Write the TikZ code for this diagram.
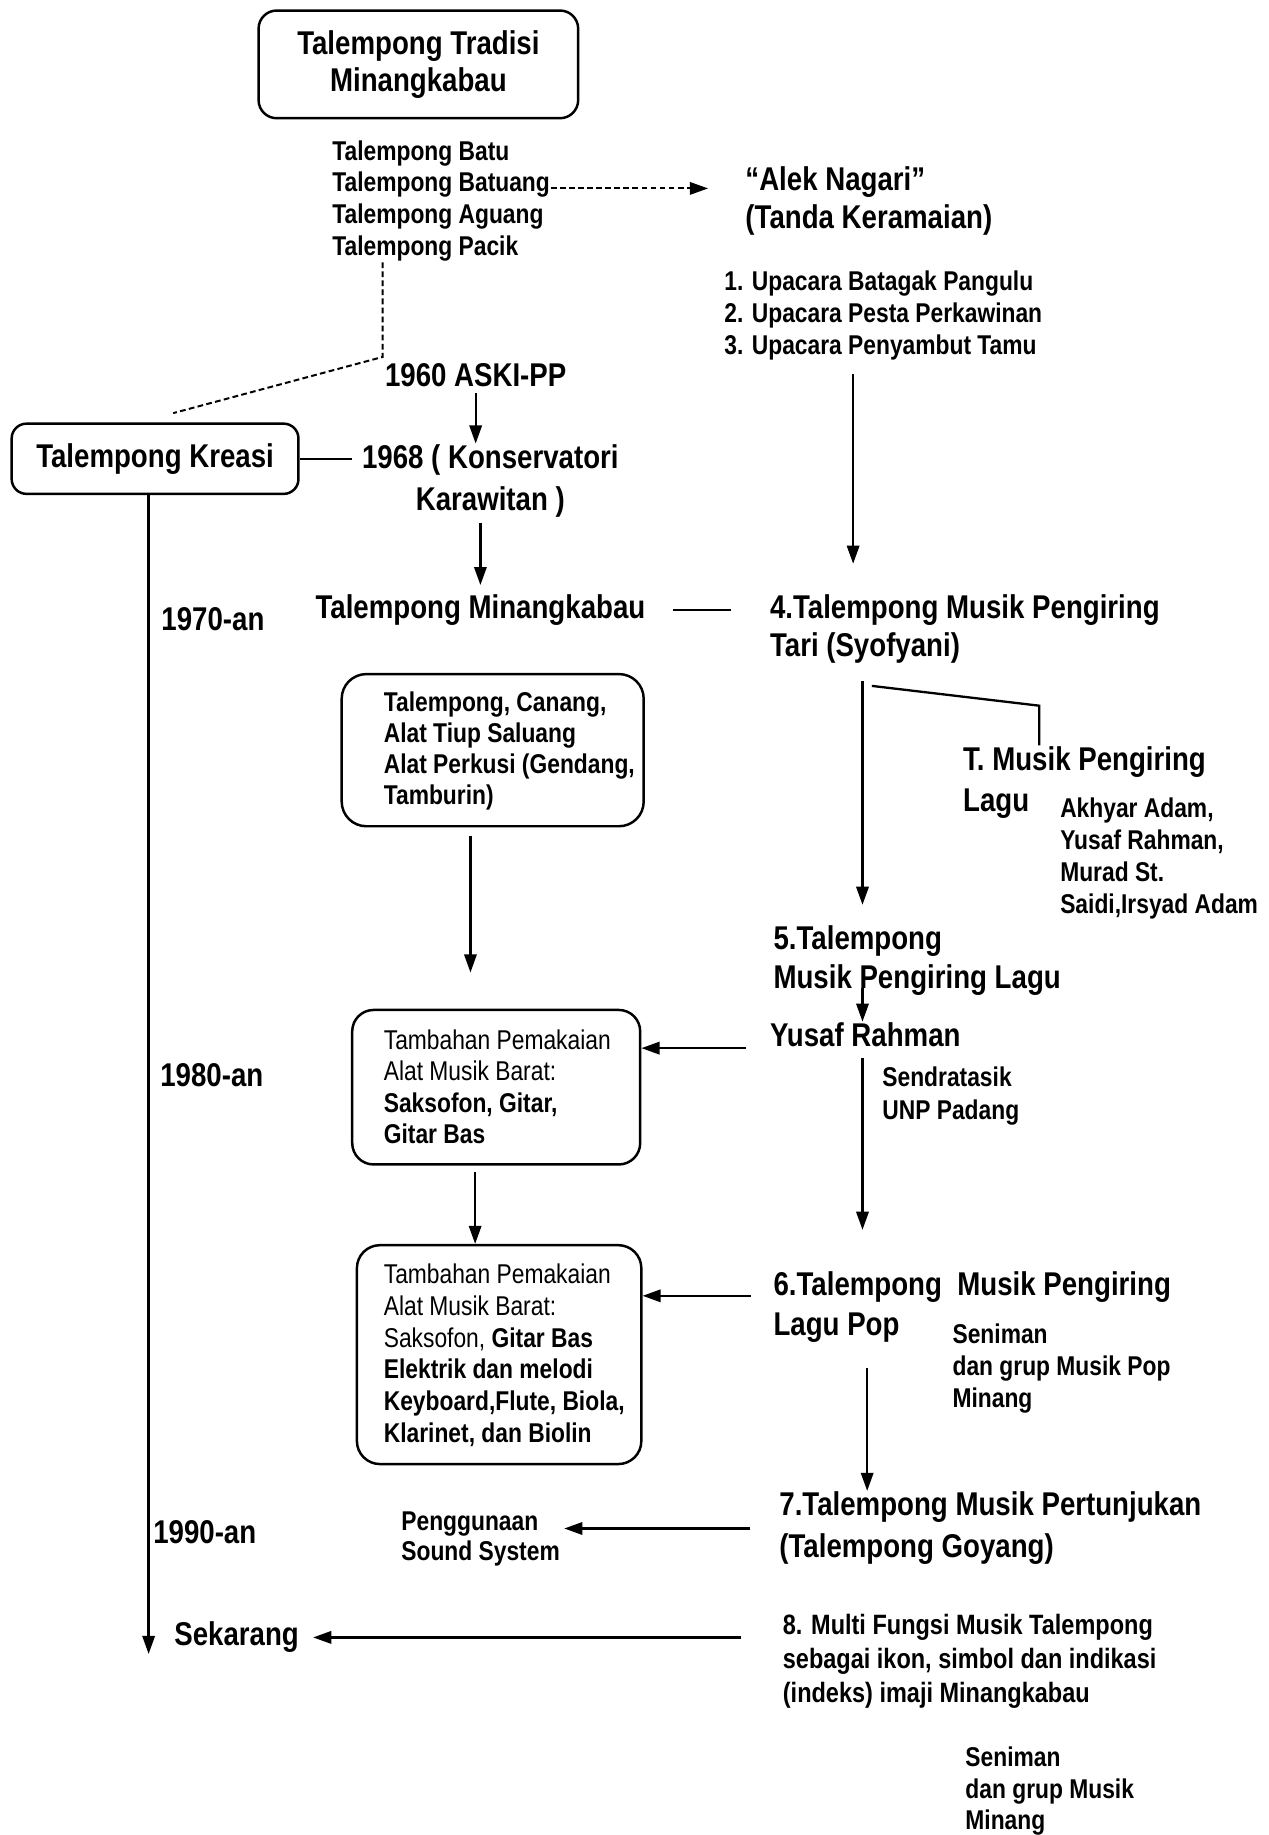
\documentclass[tikz,border=0pt]{standalone}
\usepackage{fontspec}
\setmainfont{Liberation Sans}[FakeStretch=0.84]
\usetikzlibrary{arrows.meta}

\begin{document}
\begin{tikzpicture}[x=0.025cm, y=-0.025cm, line width=1.4pt,
    txts/.style={inner sep=0pt, anchor=north west, align=left, font=\bfseries\fontsize{16.5}{#1}\selectfont},
    txts/.default=19.3,
    txtb/.style={inner sep=0pt, anchor=north west, align=left, font=\bfseries\fontsize{20}{#1}\selectfont},
    txtb/.default=23.4,
    boxr/.style={draw, line width=1.5pt, rounded corners=#1},
    boxr/.default=12pt,
    arr/.style={-{Triangle[length=11pt, width=7.5pt]}},
    dashln/.style={line width=1.2pt, dash pattern=on 3.5pt off 2pt}]
    \useasboundingbox (0,0) rectangle (1084,1568);
    \coordinate (cL) at (127,0);
    \coordinate (cR) at (729,0);
    \coordinate (cM) at (737,0);
    \coordinate (cMb) at (745,0);
    \coordinate (cN) at (741,0);
    \coordinate (cB1) at (402,0);
    \coordinate (cB2) at (406,0);
    \coordinate (rdash) at (0,161);
    \coordinate (dbend) at (327,305);
    \coordinate (dend) at (148,353);
    \coordinate (kink) at (888,603);

    \node[boxr=11pt, txtb=22.7, anchor=center, align=center, minimum width=6.825cm, minimum height=2.3cm] (tradisi) at (357.5,55) {Talempong Tradisi\\Minangkabau};
    \node[txts] (trlist) at (283,119) {Talempong Batu\\Talempong Batuang\\Talempong Aguang\\Talempong Pacik};
    \node[txtb] (alek) at (636,141) {“Alek Nagari”\\(Tanda Keramaian)};
    \node[txts=19.5] (upacara) at (618,230) {1. Upacara Batagak Pangulu\\2. Upacara Pesta Perkawinan\\3. Upacara Penyambut Tamu};
    \node[txtb] (aski) at (328,310) {1960 ASKI-PP};
    \node[boxr=9pt, txtb, anchor=center, minimum width=6.125cm, minimum height=1.5cm] (kreasi) at (132.5,392) {Talempong Kreasi};
    \node[txtb=25.5, anchor=north, align=center] (konserv) at (419,379) {1968 ( Konservatori\\Karawitan )};
    \node[txtb, anchor=north] (tmkb) at (410.5,507) {Talempong Minangkabau};
    \node[txtb] (t4) at (657,507) {4.Talempong Musik Pengiring\\Tari (Syofyani)};
    \node[txtb] (y70) at (137,518) {1970-an};
    \node[boxr=15pt, minimum width=6.45cm, minimum height=3.25cm] (box1) at (421,641) {};
    \node[txts=18.9] (box1txt) at (327,590) {Talempong, Canang,\\Alat Tiup Saluang\\Alat Perkusi (Gendang,\\Tamburin)};
    \node[txtb=24.8] (tlagu) at (822,637) {T. Musik Pengiring\\Lagu};
    \node[txts=19.4] (akhyar) at (905,681) {Akhyar Adam,\\Yusaf Rahman,\\Murad St.\\Saidi,Irsyad Adam};
    \node[txtb] (t5) at (660,790) {5.Talempong\\Musik Pengiring Lagu};
    \node[txtb] (yusaf) at (657,873) {Yusaf Rahman};
    \node[boxr=13pt, minimum width=6.15cm, minimum height=3.3cm] (box2) at (424,929) {};
    \node[txts=19.1] (box2txt) at (327,879) {{\mdseries Tambahan Pemakaian}\\{\mdseries Alat Musik Barat:}\\Saksofon, Gitar,\\Gitar Bas};
    \node[txtb] (y80) at (136,908) {1980-an};
    \node[txts=19.8] (sendra) at (753,911) {Sendratasik\\UNP Padang};
    \node[boxr=14pt, minimum width=6.075cm, minimum height=4.675cm] (box3) at (426.5,1157.5) {};
    \node[txts] (box3txt) at (327,1079) {{\mdseries Tambahan Pemakaian}\\{\mdseries Alat Musik Barat:}\\{\mdseries Saksofon,} Gitar Bas\\Elektrik dan melodi\\Keyboard,Flute, Biola,\\Klarinet, dan Biolin};
    \node[txtb=24.1] (t6) at (660,1086) {6.Talempong\ \ Musik Pengiring\\Lagu Pop};
    \node[txts=19.5] (seni1) at (813,1130) {Seniman\\dan grup Musik Pop\\Minang};
    \node[txtb=25.5] (t7) at (665,1274) {7.Talempong Musik Pertunjukan\\(Talempong Goyang)};
    \node[txts=18.4] (sound) at (342,1291) {Penggunaan\\Sound System};
    \node[txtb] (y90) at (130,1298) {1990-an};
    \node[txtb] (sekarang) at (148,1385) {Sekarang};
    \node[txts, font=\bfseries\fontsize{17}{20.5}\selectfont] (t8) at (668,1378.5) {8. Multi Fungsi Musik Talempong\\sebagai ikon, simbol dan indikasi\\(indeks) imaji Minangkabau};
    \node[txts=19.1] (seni2) at (824,1492) {Seniman\\dan grup Musik\\Minang};

    \draw[dashln, -{Triangle[length=11pt, width=7.5pt]}, shorten >=22pt] (trlist.east |- rdash) -- (alek.west |- rdash);
    \draw[dashln] (trlist.south -| dbend) -- (dbend) -- (dend);
    \draw[arr, shorten <=3pt] (aski.south) -- (aski.south |- konserv.north);
    \draw[shorten >=5.7pt] (kreasi.east) -- (konserv.west |- kreasi.east);
    \draw[arr, shorten <=3pt, shorten >=5pt] (konserv.south -| tmkb.north) -- (tmkb.north);
    \draw[shorten <=16pt, shorten >=23pt] (tmkb.east) -- (t4.west |- tmkb.east);
    \draw[arr, shorten <=8pt, shorten >=18pt] (upacara.south -| cR) -- (t4.north -| cR);
    \draw[arr] (kreasi.south -| cL) -- (sekarang.south -| cL);
    \draw[arr, shorten <=5pt, shorten >=22pt] (box1.south -| cB1) -- (box2.north -| cB1);
    \draw[arr, shorten <=10pt, shorten >=12pt] (t4.south -| cM) -- (t5.north -| cM);
    \draw (t4.south -| cMb) ++(0,18) -- (kink) -- (kink |- tlagu.north);
    \draw[arr, shorten <=-5pt] (t5.south -| cM) -- (yusaf.north -| cM);
    \draw[arr, shorten <=14pt] (yusaf.south west) -- (box2.east |- yusaf.south west);
    \draw[arr, shorten <=6pt, shorten >=25pt] (yusaf.south -| cM) -- (t6.north -| cM);
    \draw[arr, shorten <=4pt] (box2.south -| cB2) -- (box3.north -| cB2);
    \coordinate (a6) at ([yshift=7pt]t6.west);
    \draw[arr, shorten <=13pt] (a6) -- (box3.east |- a6);
    \draw[arr, shorten <=15pt] (t6.south -| cN) -- (t7.north -| cN);
    \draw[arr, shorten <=17pt, shorten >=2pt] (t7.west) -- (sound.east |- t7.west);
    \draw[arr, shorten <=25pt, shorten >=8pt] (t8.west |- sekarang.east) -- (sekarang.east);
\end{tikzpicture}
\end{document}
